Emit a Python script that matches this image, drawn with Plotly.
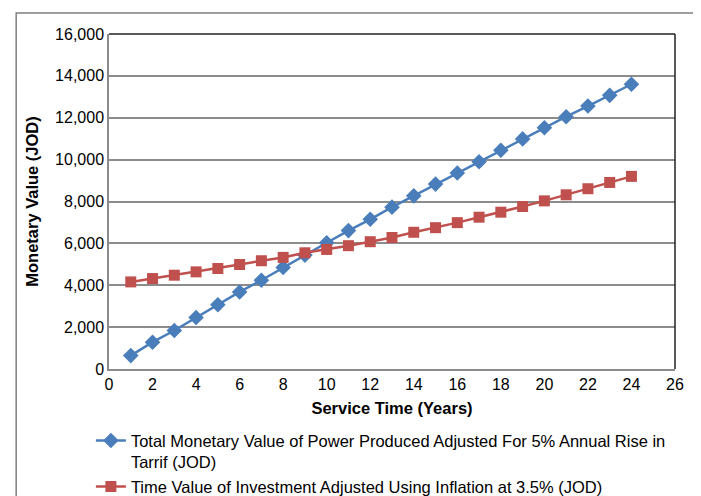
import plotly.graph_objects as go

years = list(range(1, 25))
power_value = [640, 1280, 1840, 2460, 3070, 3680, 4240, 4850, 5440, 6030, 6610, 7150,
               7730, 8270, 8830, 9360, 9900, 10450, 10990, 11520, 12050, 12560, 13070, 13600]
investment_value = [4160, 4320, 4480, 4640, 4800, 4990, 5170, 5330, 5550, 5710, 5890, 6080,
                    6280, 6530, 6750, 6990, 7250, 7490, 7760, 8030, 8320, 8610, 8910, 9200]
x_ticks = list(range(0, 27, 2))
y_ticks = list(range(0, 16001, 2000))

name1 = "Total Monetary Value of Power Produced Adjusted For 5% Annual Rise in<br>Tarrif (JOD)"
name2 = "Time Value of Investment Adjusted Using Inflation at 3.5% (JOD)"

FONT = "Liberation Sans, Arial, sans-serif"

fig = go.Figure()
fig.add_trace(go.Scatter(
    x=years, y=power_value, mode="lines+markers", name=name1,
    line=dict(color="#4A7EBB", width=2.5),
    marker=dict(symbol="diamond", size=12, color="#4A7EBB"),
))
fig.add_trace(go.Scatter(
    x=years, y=investment_value, mode="lines+markers", name=name2,
    line=dict(color="#C0504D", width=2.5),
    marker=dict(symbol="square", size=11, color="#C0504D"),
))

# page body has an 8px margin, so the figure is sized/offset accordingly
fig.update_layout(
    width=693, height=488,
    margin=dict(l=101, r=26, t=26, b=127, autoexpand=False),
    paper_bgcolor="white", plot_bgcolor="white",
    font=dict(family=FONT, size=16, color="black"),
    showlegend=True,
    legend=dict(
        x=-0.032, y=-0.162, xanchor="left", yanchor="top",
        orientation="v", valign="top",
        font=dict(family=FONT, size=16.5, color="black"),
        tracegroupgap=0, itemwidth=30,
    ),
    xaxis=dict(
        range=[0, 26], tickmode="array", tickvals=x_ticks,
        ticktext=[str(v) for v in x_ticks],
        showgrid=False, zeroline=False, automargin=False,
        showline=True, linecolor="#8c8c8c", linewidth=1.5,
        ticks="", tickfont=dict(size=16),
        title=dict(text="<b>Service Time (Years)</b>", font=dict(size=16.5), standoff=10),
    ),
    yaxis=dict(
        range=[0, 16000], tickmode="array", tickvals=y_ticks,
        ticktext=[f"{v:,}" for v in y_ticks],
        showgrid=True, gridcolor="#8c8c8c", gridwidth=1.5,
        zeroline=False, automargin=False,
        showline=True, linecolor="#8c8c8c", linewidth=1.5,
        ticks="", tickfont=dict(size=16),
        title=dict(text="<b>Monetary Value (JOD)</b>", font=dict(size=16.5), standoff=12),
    ),
    shapes=[
        dict(type="line", xref="paper", yref="paper", x0=0, x1=1, y0=1, y1=1,
             line=dict(color="#222222", width=1.5)),
        dict(type="line", xref="paper", yref="paper", x0=1, x1=1, y0=0, y1=1,
             line=dict(color="#222222", width=1.5)),
        dict(type="rect", xref="paper", yref="paper",
             x0=-0.164, x1=1.0353, y0=-0.40, y1=1.063,
             line=dict(color="#7f7f7f", width=1.5), fillcolor="rgba(0,0,0,0)", layer="above"),
    ],
)

fig.write_html("out.html")
